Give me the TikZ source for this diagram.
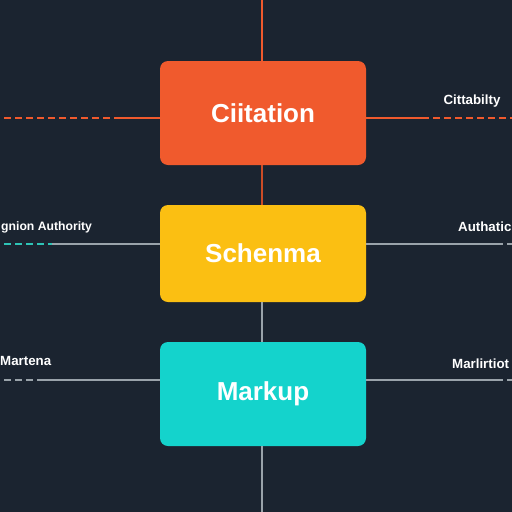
\documentclass[tikz,border=0pt]{standalone}
\usepackage{fontspec}
\setmainfont{Liberation Sans}
\usetikzlibrary{positioning}
\definecolor{bg}{HTML}{1B2430}
\definecolor{citeorange}{HTML}{F05A2D}
\definecolor{schemayellow}{HTML}{FBBF12}
\definecolor{markupcyan}{HTML}{14D3CC}
\definecolor{wiregray}{HTML}{9AA3AA}
\definecolor{dashcyan}{HTML}{2EC4B6}

\begin{document}
\begin{tikzpicture}[x=1pt,y=-1pt,
  block/.style={fill=#1,rounded corners=8pt,minimum width=206pt,minimum height=104pt,
    text=white,inner sep=0pt,font=\fontsize{26}{28}\selectfont\bfseries},
  tag/.style={text=white,inner sep=0pt,font=\fontsize{13.3}{15}\selectfont\bfseries},
  wire/.style={draw=#1,line width=1.6pt},
  dashwire/.style={draw=#1,line width=2.4pt,dash pattern=on 7pt off 4pt}]
  \clip (0,0) rectangle (512,512);
  \fill[bg] (0,0) rectangle (512,512);
  % ---- blocks
  \node[block=citeorange] (cite) at (263,113) {Ciitation};
  \node[block=schemayellow,minimum height=97pt] (schema) at (263,253.5) {Schenma};
  \node[block=markupcyan] (markup) at (263,394) {Markup};
  % ---- spine
  \coordinate (top) at (262,0);
  \coordinate (bottom) at (262,512);
  \draw[wire=citeorange] (top) -- (top |- cite.north);
  \draw[wire=citeorange!85!black] (cite.south -| top) -- (schema.north -| top);
  \draw[wire=wiregray] (schema.south -| top) -- (markup.north -| top);
  \draw[wire=wiregray] (markup.south -| top) -- (bottom);
  % ---- side wires: name/y/left dash end/right dash start/left colour/left dash colour/right colour
  \foreach \n/\y/\a/\b/\lc/\ldash/\rc in {cite/118/116/422/citeorange/citeorange/citeorange,
      schema/244/52/496/wiregray/dashcyan/wiregray,
      markup/380/38/496/wiregray/wiregray/wiregray} {
    \coordinate (\n-l0) at (4,\y);
    \coordinate (\n-l1) at (\a,\y);
    \coordinate (\n-r1) at (\b,\y);
    \coordinate (\n-r0) at (512,\y);
    \draw[dashwire=\ldash] (\n-l0) -- (\n-l1);
    \draw[wire=\lc] (\n-l1) -- (\n-l1 -| \n.west);
    \draw[wire=\rc] (\n-l1 -| \n.east) -- (\n-r1);
    \draw[dashwire=\rc] (\n-r1) -- (\n-r0);
  }
  % ---- labels
  \node[tag] (citetag) at (472,101) {Cittabilty};
  \node[tag,anchor=west,font=\fontsize{12.2}{14}\selectfont\bfseries] (regtag) at (1,227) {gnion Authority};
  \node[tag,anchor=west] (authtag) at (458,227) {Authatic};
  \node[tag,anchor=west] (marttag) at (0,361) {Martena};
  \node[tag,anchor=west] (marltag) at (452,364) {Marlirtiot};
\end{tikzpicture}
\end{document}
